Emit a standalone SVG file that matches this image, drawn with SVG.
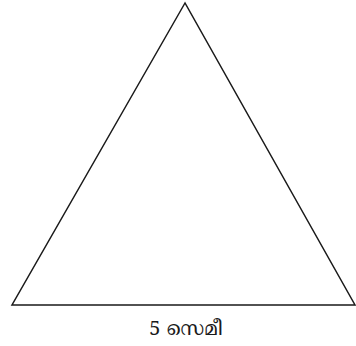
<svg xmlns="http://www.w3.org/2000/svg" width="356" height="346" viewBox="0 0 356 346">
<style>
.edge{fill:none;stroke:#1a1a1a;stroke-width:1.5;stroke-linejoin:miter}
.lbl{font-family:"Noto Serif Malayalam","Noto Sans Malayalam","Noto Sans","DejaVu Sans",sans-serif;font-size:20px;fill:#1a1a1a;text-anchor:middle}
</style>
<rect width="356" height="346" fill="#ffffff"/>
<g id="triangle">
<polygon class="edge" points="185,3 12,305 355,305"/>
</g>
<g id="label">
<text class="lbl" x="186" y="335">5 സെമീ</text>
</g>
</svg>
